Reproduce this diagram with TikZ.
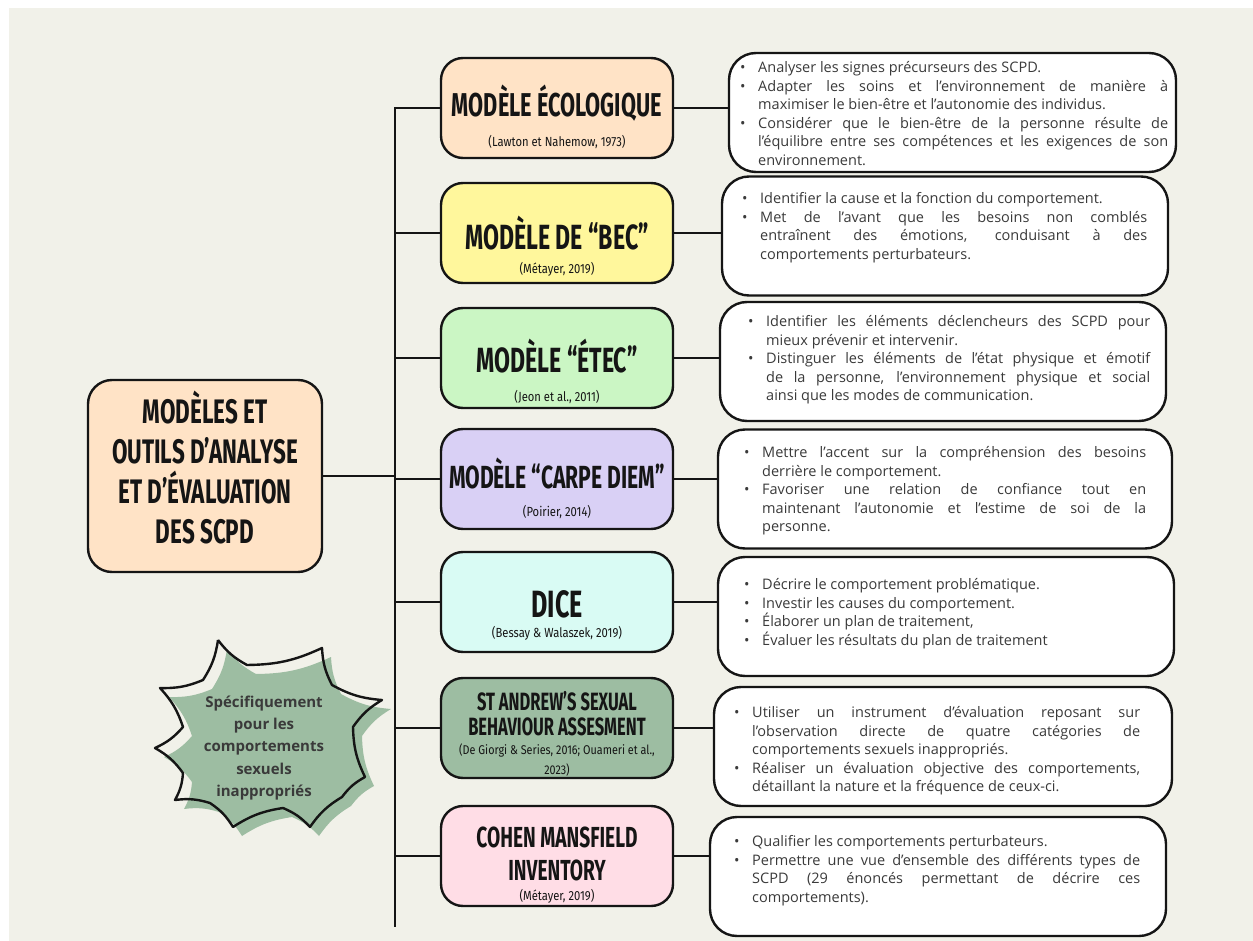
\documentclass[tikz,border=0pt]{standalone}
\usepackage{fontspec}
\setmainfont{Open Sans}
\newfontfamily\headfont{Fira Sans}[FakeStretch=0.66]
\newfontfamily\citefont{Fira Sans}[FakeStretch=0.85]
\definecolor{bg}{HTML}{F1F1E9}
\definecolor{cpeach}{HTML}{FFE3C6}
\definecolor{cyellow}{HTML}{FFF79C}
\definecolor{cgreen}{HTML}{CBF6C4}
\definecolor{clav}{HTML}{D9D0F5}
\definecolor{ccyan}{HTML}{D9FBF4}
\definecolor{csage}{HTML}{9DBDA2}
\definecolor{cpink}{HTML}{FFDDE6}
\definecolor{txtgray}{HTML}{3A3A3A}
\definecolor{ink}{HTML}{151515}
\newlength\bulind
\setlength\bulind{18pt}
\newcommand\nohyph{\hyphenpenalty=10000\relax\exhyphenpenalty=10000\relax}
\newcommand\bul[1]{\par\hangindent=\bulind\hangafter=1\noindent\makebox[\bulind][l]{\textbullet}#1\par}
\tikzset{
  line/.style={draw=ink, line width=2.4pt},
  mainbox/.style={draw=ink, line width=2.4pt, rounded corners=24pt, minimum width=234pt, minimum height=192pt, inner sep=0pt, fill=cpeach},
  midbox/.style={draw=ink, line width=2.4pt, rounded corners=22pt, minimum width=232pt, minimum height=100pt, inner sep=0pt},
  bulbox/.style={draw=ink, line width=2.4pt, rounded corners=27pt, minimum height=119pt, inner sep=0pt, fill=white},
  title/.style={anchor=base, inner sep=0pt, text=ink, align=center},
  cite/.style={anchor=base, inner sep=0pt, text=ink, font=\citefont\fontsize{13.2}{15}\selectfont},
  btext/.style={anchor=north west, inner sep=0pt, align=justify, text=txtgray, font=\fontsize{14.5}{18.5}\selectfont\nohyph},
}
\begin{document}
\begin{tikzpicture}[x=1pt, y=-1pt]
\useasboundingbox (0,0) rectangle (1253,941);
\fill[bg] (9,8) rectangle (1253,941);

% starburst
\fill[csage, shift={(9,9)}] (218,640) to[bend right=12] (247,665) to[bend right=12] (322,648) to[bend right=12] (332,685)
  to[bend right=12] (382,700) to[bend right=12] (353,727) to[bend right=12] (365,777) to[bend right=12] (342,797)
  to[bend right=12] (310,827) to[bend right=12] (283,808) to[bend right=12] (233,827) to[bend right=12] (210,803)
  to[bend right=12] (175,800) to[bend right=12] (183,773) to[bend right=12] (155,748) to[bend right=12] (183,727)
  to[bend right=12] (160,688) to[bend right=12] (203,680) to[bend right=12] cycle;
\draw[draw=ink, line width=2.4pt, line join=round] (218,640) to[bend right=12] (247,665) to[bend right=12] (322,648) to[bend right=12] (332,685)
  to[bend right=12] (382,700) to[bend right=12] (353,727) to[bend right=12] (365,777) to[bend right=12] (342,797)
  to[bend right=12] (310,827) to[bend right=12] (283,808) to[bend right=12] (233,827) to[bend right=12] (210,803)
  to[bend right=12] (175,800) to[bend right=12] (183,773) to[bend right=12] (155,748) to[bend right=12] (183,727)
  to[bend right=12] (160,688) to[bend right=12] (203,680) to[bend right=12] (218,640);
\node[align=center, text=txtgray, inner sep=0pt, font=\bfseries\fontsize{15}{22.3}\selectfont] (burst) at (264,748)
  {Spécifiquement\\pour les\\comportements\\sexuels\\inappropriés};

% main box
\node[mainbox] (main) at (205,476) {};
\node[title, font=\headfont\bfseries\fontsize{34}{40}\selectfont] (maint) at (205,543)
  {MODÈLES ET\\OUTILS D’ANALYSE\\ET D’ÉVALUATION\\DES SCPD};

% middle boxes
\node[midbox, fill=cpeach]  (m1) at (557,108) {};
\node[midbox, fill=cyellow] (m2) at (557,233) {};
\node[midbox, fill=cgreen]  (m3) at (557,358) {};
\node[midbox, fill=clav]    (m4) at (557,479) {};
\node[midbox, fill=ccyan]   (m5) at (557,602) {};
\node[midbox, fill=csage]   (m6) at (557,728) {};
\node[midbox, fill=cpink]   (m7) at (557,856) {};

\node[title, font=\headfont\bfseries\fontsize{33}{40}\selectfont] (m1t) at (557,117) {MODÈLE ÉCOLOGIQUE};
\node[cite] (m1c) at (557,147) {(Lawton et Nahemow, 1973)};
\node[title, font=\headfont\bfseries\fontsize{35}{40}\selectfont] (m2t) at (557,250) {MODÈLE DE “BEC”};
\node[cite] (m2c) at (557,274) {(Métayer, 2019)};
\node[title, font=\headfont\bfseries\fontsize{35}{40}\selectfont] (m3t) at (557,372) {MODÈLE “ÉTEC”};
\node[cite] (m3c) at (557,401) {(Jeon et al., 2011)};
\node[title, font=\headfont\bfseries\fontsize{32}{40}\selectfont] (m4t) at (557,488) {MODÈLE “CARPE DIEM”};
\node[cite] (m4c) at (557,516) {(Poirier, 2014)};
\node[title, font=\headfont\bfseries\fontsize{38}{40}\selectfont] (m5t) at (557,617) {DICE};
\node[cite] (m5c) at (557,637) {(Bessay \& Walaszek, 2019)};
\node[title, font=\headfont\bfseries\fontsize{25}{25}\selectfont] (m6t) at (557,735) {ST ANDREW’S SEXUAL\\BEHAVIOUR ASSESMENT};
\node[cite, align=center, font=\citefont\fontsize{12.7}{20}\selectfont] (m6c) at (557,774) {(De Giorgi \& Series, 2016; Ouameri et al.,\\2023)};
\node[title, font=\headfont\bfseries\fontsize{29}{33}\selectfont] (m7t) at (557,880) {COHEN MANSFIELD\\INVENTORY};
\node[cite] (m7c) at (557,900) {(Métayer, 2019)};

% bullet boxes
\node[bulbox, minimum width=447pt] (b1) at (952.5,112.5) {};
\node[bulbox, minimum width=446pt] (b2) at (945,236) {};
\node[bulbox, minimum width=446pt] (b3) at (943,361.5) {};
\node[bulbox, minimum width=454pt] (b4) at (945,489) {};
\node[bulbox, minimum width=456pt] (b5) at (946,616.5) {};
\node[bulbox, minimum width=458pt] (b6) at (943,746.5) {};
\node[bulbox, minimum width=456pt] (b7) at (938,876.5) {};

\node[btext, text width=428pt] (t1) at (740,54) {%
\bul{Analyser les signes précurseurs des SCPD.}
\bul{Adapter les soins et l'environnement de manière à\linebreak maximiser le bien-être et l'autonomie des individus.}
\bul{Considérer que le bien-être de la personne résulte de\linebreak l'équilibre entre ses compétences et les exigences de son\linebreak environnement.}};
\node[btext, text width=405pt] (t2) at (742,185) {%
\bul{Identifier la cause et la fonction du comportement.}
\bul{Met de l'avant que les besoins non comblés\linebreak entraînent des émotions, conduisant à des\linebreak comportements perturbateurs.}};
\node[btext, text width=402pt] (t3) at (748,308) {%
\bul{Identifier les éléments déclencheurs des SCPD pour\linebreak mieux prévenir et intervenir.}
\bul{Distinguer les éléments de l'état physique et émotif\linebreak de la personne, l'environnement physique et social\linebreak ainsi que les modes de communication.}};
\node[btext, text width=402pt] (t4) at (744,439) {%
\bul{Mettre l'accent sur la compréhension des besoins\linebreak derrière le comportement.}
\bul{Favoriser une relation de confiance tout en\linebreak maintenant l'autonomie et l'estime de soi de la\linebreak personne.}};
\node[btext, text width=402pt] (t5) at (744,571) {%
\bul{Décrire le comportement problématique.}
\bul{Investir les causes du comportement.}
\bul{Élaborer un plan de traitement,}
\bul{Évaluer les résultats du plan de traitement}};
\node[btext, text width=406pt] (t6) at (734,699) {%
\bul{Utiliser un instrument d'évaluation reposant sur\linebreak l'observation directe de quatre catégories de\linebreak comportements sexuels inappropriés.}
\bul{Réaliser un évaluation objective des comportements,\linebreak détaillant la nature et la fréquence de ceux-ci.}};
\node[btext, text width=406pt] (t7) at (734,828) {%
\bul{Qualifier les comportements perturbateurs.}
\bul{Permettre une vue d'ensemble des différents types de\linebreak SCPD (29 énoncés permettant de décrire ces\linebreak comportements).}};

% connectors
\coordinate (trunk) at (395,0);
\coordinate (trunkbot) at (395,927);
\draw[line, line join=miter] (m1.west) -- (m1.west -| trunk) -- (trunkbot);
\foreach \i in {2,...,7} {\draw[line] (m\i.west) -- (m\i.west -| trunk);}
\draw[line] (main.east) -- (main.east -| trunk);
\foreach \i in {1,...,7} {\draw[line] (m\i.east) -- (m\i.east -| b\i.west);}
\end{tikzpicture}
\end{document}
